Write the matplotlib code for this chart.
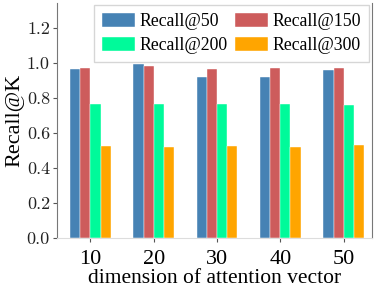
import matplotlib
matplotlib.use("Agg")
import matplotlib.pyplot as plt
import numpy as np

dims = ["10", "20", "30", "40", "50"]
series_names = ["Recall@50", "Recall@150", "Recall@200", "Recall@300"]
recall50 = [0.964, 0.993, 0.922, 0.922, 0.962]
recall150 = [0.970, 0.983, 0.964, 0.970, 0.970]
recall200 = [0.766, 0.766, 0.766, 0.766, 0.762]
recall300 = [0.526, 0.518, 0.526, 0.522, 0.530]
yticks = [0.0, 0.2, 0.4, 0.6, 0.8, 1.0, 1.2]

colors = ["#4682B4", "#CD5C5C", "#00FA9A", "#FFA500"]

plt.rcParams['font.family'] = ['Liberation Serif', 'DejaVu Serif']

fig = plt.figure(figsize=(3.74, 2.87), dpi=100)
ax = fig.add_axes([0.152, 0.171, 0.843, 0.819])

x = np.arange(len(dims))
w = 0.16
handles = []
for i, (vals, name) in enumerate(zip([recall50, recall150, recall200, recall300], series_names)):
    b = ax.bar(x + (i - 1.5) * w, vals, w, color=colors[i], label=name,
               edgecolor='white', linewidth=0.3)
    handles.append(b)

ax.set_xlim(-0.53, 4.45)
ax.set_ylim(0, 1.343)
ax.set_xticks(x)
ax.set_xticklabels(dims, fontsize=16)
ax.set_yticks(yticks)
ax.set_yticklabels(["%.1f" % v for v in yticks], family='cmr10', fontsize=13, color='#222222')
ax.tick_params(axis='y', length=3, color='#555555', pad=2)
ax.tick_params(axis='x', length=3, color='#555555', pad=6)

ax.spines['top'].set_visible(False)
ax.spines['left'].set_color('#777777')
ax.spines['right'].set_color('#777777')
ax.spines['bottom'].set_color('#dddddd')

ax.set_ylabel("Recall@K", fontsize=16, labelpad=2)
ax.set_xlabel("dimension of attention vector", fontsize=15.5, labelpad=0)

order = [0, 2, 1, 3]
leg = ax.legend([handles[i] for i in order], [series_names[i] for i in order],
                ncol=2, loc='upper right', fontsize=12.8, frameon=True,
                fancybox=False, edgecolor='#cccccc', handlelength=1.85,
                handleheight=0.85, columnspacing=0.45, handletextpad=0.25,
                borderpad=0.45, labelspacing=0.35, borderaxespad=0.0,
                bbox_to_anchor=(0.99, 0.99))
leg.get_frame().set_linewidth(1.0)

fig.savefig("out.png", dpi=100)
